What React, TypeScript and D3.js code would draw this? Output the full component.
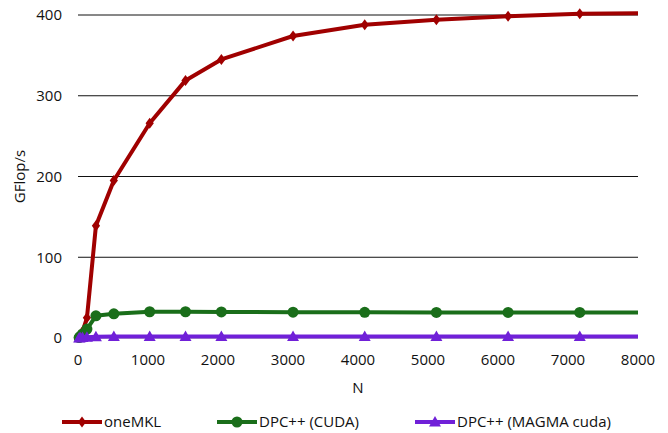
import React from "react";
import * as d3 from "d3";

const nValues = [16, 32, 64, 128, 256, 512, 1024, 1536, 2048, 3072, 4096, 5120, 6144, 7168, 8192];
const oneMKL = [1, 3, 8, 25, 139, 195, 266, 319, 345, 374, 388, 394, 398.5, 401.5, 402.5];
const dpcCuda = [0.5, 2, 5, 11, 27.5, 30, 32.5, 32.5, 32.3, 32, 31.8, 31.7, 31.7, 31.6, 31.6];
const dpcMagma = [0.1, 0.3, 0.6, 1, 1.5, 1.8, 2, 2, 2, 2, 2, 2, 2, 2, 2];
const xTicks = [0, 1000, 2000, 3000, 4000, 5000, 6000, 7000, 8000];
const yTicks = [0, 100, 200, 300, 400];
const seriesNames = ["oneMKL", "DPC++ (CUDA)", "DPC++ (MAGMA cuda)"];

const W = 668, H = 433;
const M = { left: 78, right: 30, top: 15, bottom: 95 };
const FONT = "'Open Sans', sans-serif";

const colors = ["#A00000", "#1A6E1A", "#7020D8"];
const shapes = ["diamond", "circle", "triangle"];

function Marker({ shape, x, y, color }: { shape: string; x: number; y: number; color: string }) {
  if (shape === "diamond") {
    const s = 5.5;
    return <path d={`M${x},${y - s}L${x + s * 0.75},${y}L${x},${y + s}L${x - s * 0.75},${y}Z`} fill={color} />;
  }
  if (shape === "circle") return <circle cx={x} cy={y} r={5.5} fill={color} />;
  const s = 6;
  return <path d={`M${x},${y - s}L${x + s},${y + s * 0.75}L${x - s},${y + s * 0.75}Z`} fill={color} />;
}

export default function App() {
  const x = d3.scaleLinear().domain([0, 8000]).range([M.left, W - M.right]);
  const y = d3.scaleLinear().domain([0, 400]).range([338, 15]);
  const series = [oneMKL, dpcCuda, dpcMagma];
  const line = d3
    .line<number>()
    .x((_, i) => x(nValues[i]))
    .y((d) => y(d));

  const legendX = [62, 217, 415];
  const legendY = 422;

  return (
    <svg width={W} height={H} style={{ position: "absolute", left: 0, top: 0, background: "#fff" }}>
      <defs>
        <clipPath id="plot">
          <rect x={M.left - 10} y={0} width={x(8000) - M.left + 10} height={H} />
        </clipPath>
      </defs>
      {yTicks.map((t) => (
        <g key={t}>
          <line x1={x(0)} x2={x(8000)} y1={y(t)} y2={y(t)} stroke={t === 0 ? "#888" : "#111"} strokeWidth={1} />
          <text x={62} y={y(t)} dy="0.35em" textAnchor="end" fontFamily={FONT} fontSize={15} fill="#111">
            {t}
          </text>
        </g>
      ))}
      {xTicks.map((t) => (
        <text key={t} x={x(t)} y={360} dy="0.35em" textAnchor="middle" fontFamily={FONT} fontSize={15} fill="#111">
          {t}
        </text>
      ))}
      <text x={(x(0) + x(8000)) / 2} y={388} dy="0.35em" textAnchor="middle" fontFamily={FONT} fontSize={15} fill="#111">
        N
      </text>
      <text
        transform={`translate(20,${y(200)}) rotate(-90)`}
        dy="0.35em"
        textAnchor="middle"
        fontFamily={FONT}
        fontSize={15}
        fill="#111"
      >
        GFlop/s
      </text>
      <g clipPath="url(#plot)">
        {series.map((s, si) => (
          <g key={si}>
            <path d={line(s) || ""} fill="none" stroke={colors[si]} strokeWidth={4} strokeLinejoin="round" />
            {s.map((v, i) =>
              nValues[i] <= 8000 ? (
                <Marker key={i} shape={shapes[si]} x={x(nValues[i])} y={y(v)} color={colors[si]} />
              ) : null
            )}
          </g>
        ))}
      </g>
      {seriesNames.map((name, i) => (
        <g key={name}>
          <line x1={legendX[i]} x2={legendX[i] + 40} y1={legendY} y2={legendY} stroke={colors[i]} strokeWidth={4} />
          <Marker shape={shapes[i]} x={legendX[i] + 20} y={legendY} color={colors[i]} />
          <text x={legendX[i] + 42} y={legendY} dy="0.35em" fontFamily={FONT} fontSize={15} fill="#111">
            {name}
          </text>
        </g>
      ))}
    </svg>
  );
}
